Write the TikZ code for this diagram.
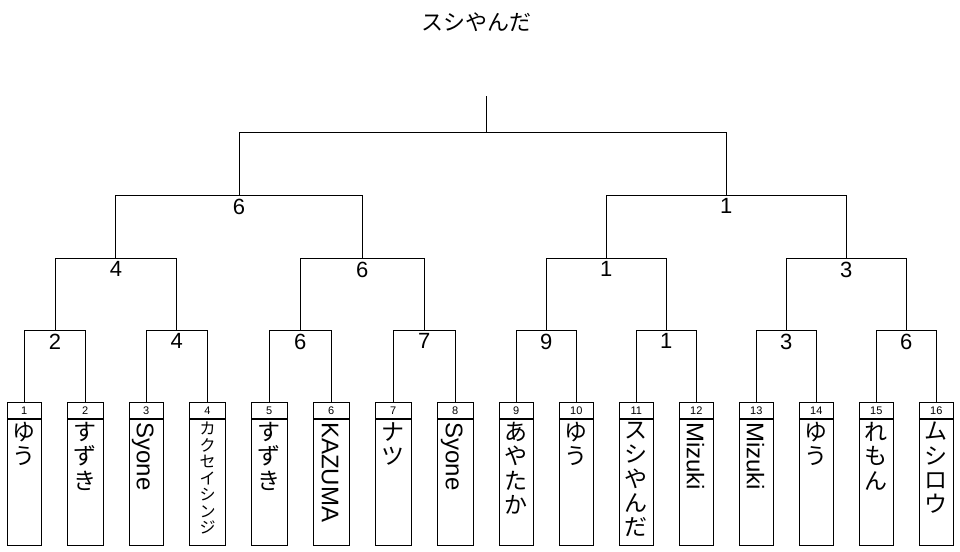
\documentclass[tikz,border=0pt]{standalone}
\usepackage{fontspec}
\usepackage{graphicx}
\setmainfont{Liberation Sans}
\newfontfamily\jp{Noto Sans CJK JP}
\newcommand\nmbox[1]{\parbox[c][126pt][t]{30pt}{\centering\lineskiplimit=-40pt\lineskip=0pt\vspace*{3pt}#1\par}}
\newcommand\jpv[1]{\jp\fontsize{23}{24.3}\selectfont #1}
\newcommand\jpsmall[1]{\jp\fontsize{16}{16.5}\selectfont #1}
\newcommand\latv[1]{\fontsize{24}{26}\selectfont\rotatebox{-90}{\rule[-3pt]{0pt}{25pt}\smash{#1}}}
\begin{document}
\begin{tikzpicture}[x=1pt,y=-1pt,line width=1pt,
  leafnum/.style={draw,inner sep=0pt,minimum height=16pt,font=\fontsize{11}{12}\selectfont},
  leafname/.style={draw,inner sep=0pt,anchor=north},
  score/.style={inner sep=0pt,anchor=north,font=\fontsize{22}{24}\selectfont},
  titletext/.style={inner sep=0pt,font=\jp\fontsize{22}{24}\selectfont}]
\useasboundingbox (0,0) rectangle (960,551);
\newcommand\leaf[4]{%
  \node[leafnum,minimum width=#3pt] (n#1) at (#2,410.3) {#1};
  \node[leafname,minimum width=#3pt,minimum height=126pt] (b#1) at (n#1.south) {\nmbox{#4}};}
\node[titletext] (title) at (476,22.5) {スシやんだ};
\leaf{1}{24.3}{34}{\jpv{ゆ\\う}}
\leaf{2}{85.3}{36}{\jpv{す\\ず\\き}}
\leaf{3}{146.3}{34}{\latv{Syone}}
\leaf{4}{207.5}{36}{\jpsmall{カ\\ク\\セ\\イ\\シ\\ン\\ジ}}
\leaf{5}{269.3}{36}{\jpv{す\\ず\\き}}
\leaf{6}{331.3}{36}{\latv{KAZUMA}}
\leaf{7}{393.3}{36}{\jpv{ナ\\ツ}}
\leaf{8}{455.3}{36}{\latv{Syone}}
\leaf{9}{516.3}{34}{\jpv{あ\\や\\た\\か}}
\leaf{10}{576.3}{34}{\jpv{ゆ\\う}}
\leaf{11}{636.3}{34}{\jpv{ス\\シ\\や\\ん\\だ}}
\leaf{12}{696.3}{34}{\latv{Mizuki}}
\leaf{13}{756.3}{34}{\latv{Mizuki}}
\leaf{14}{816.3}{34}{\jpv{ゆ\\う}}
\leaf{15}{876.3}{34}{\jpv{れ\\も\\ん}}
\leaf{16}{936.3}{34}{\jpv{ム\\シ\\ロ\\ウ}}
% junctions
\coordinate (m1) at (55,330.3);
\coordinate (m2) at (176.8,330.3);
\coordinate (m3) at (300.3,330.3);
\coordinate (m4) at (424.3,330.3);
\coordinate (m5) at (546.3,330.3);
\coordinate (m6) at (666.3,330.3);
\coordinate (m7) at (786.3,330.3);
\coordinate (m8) at (906.3,330.3);
\coordinate (q1) at (115.9,258.3);
\coordinate (q2) at (362.3,258.3);
\coordinate (q3) at (606.3,258.3);
\coordinate (q4) at (846.3,258.3);
\coordinate (s1) at (239.1,195.3);
\coordinate (s2) at (726.3,195.3);
\coordinate (f) at (486.3,132.3);
\coordinate (top) at (486.3,96);
% connectors
\draw (n1.north) |- (m1) -| (n2.north);
\draw (n3.north) |- (m2) -| (n4.north);
\draw (n5.north) |- (m3) -| (n6.north);
\draw (n7.north) |- (m4) -| (n8.north);
\draw (n9.north) |- (m5) -| (n10.north);
\draw (n11.north) |- (m6) -| (n12.north);
\draw (n13.north) |- (m7) -| (n14.north);
\draw (n15.north) |- (m8) -| (n16.north);
\draw (m1) |- (q1) -| (m2);
\draw (m3) |- (q2) -| (m4);
\draw (m5) |- (q3) -| (m6);
\draw (m7) |- (q4) -| (m8);
\draw (q1) |- (s1) -| (q2);
\draw (q3) |- (s2) -| (q4);
\draw (s1) |- (f) -| (s2);
\draw (f) -- (top);
% scores
\node[score] (sm1) at ([yshift=-3pt]m1) {2};
\node[score] (sm2) at ([yshift=-3pt]m2) {4};
\node[score] (sm3) at ([yshift=-3pt]m3) {6};
\node[score] (sm4) at ([yshift=-3pt]m4) {7};
\node[score] (sm5) at ([yshift=-3pt]m5) {9};
\node[score] (sm6) at ([yshift=-3pt]m6) {1};
\node[score] (sm7) at ([yshift=-3pt]m7) {3};
\node[score] (sm8) at ([yshift=-3pt]m8) {6};
\node[score] (sq1) at ([yshift=-3pt]q1) {4};
\node[score] (sq2) at ([yshift=-3pt]q2) {6};
\node[score] (sq3) at ([yshift=-3pt]q3) {1};
\node[score] (sq4) at ([yshift=-3pt]q4) {3};
\node[score] (ss1) at ([yshift=-3pt]s1) {6};
\node[score] (ss2) at ([yshift=-3pt]s2) {1};
\end{tikzpicture}
\end{document}
